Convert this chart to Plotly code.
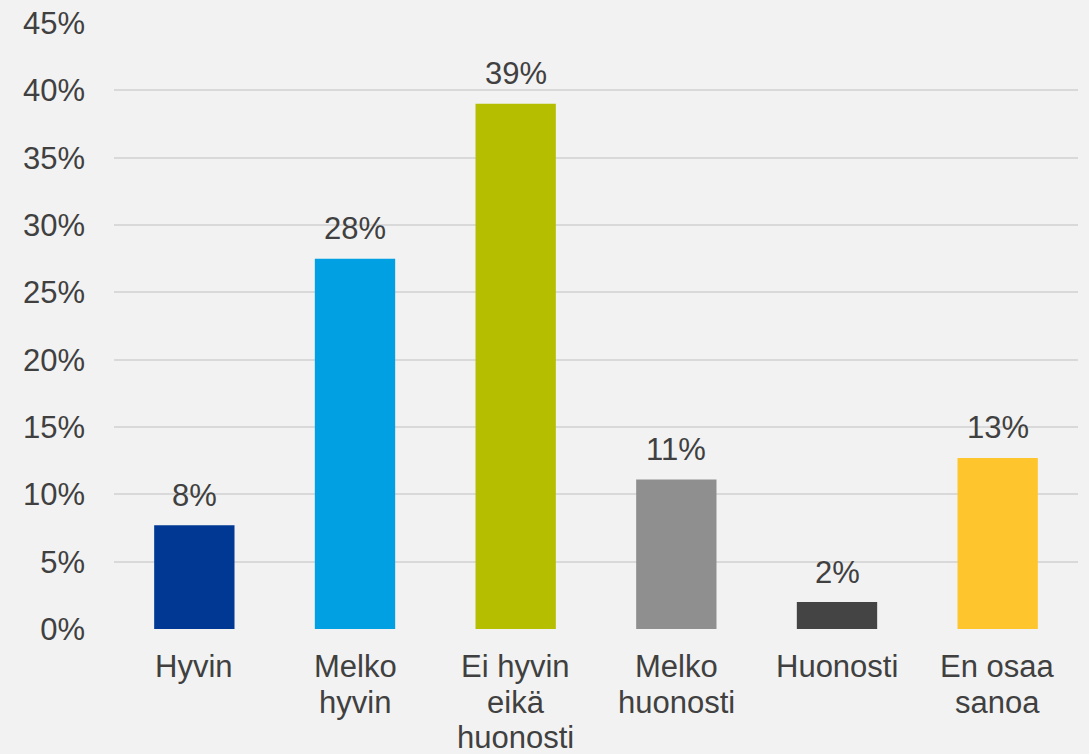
import plotly.graph_objects as go

categories = ["Hyvin", "Melko hyvin", "Ei hyvin eikä huonosti", "Melko huonosti", "Huonosti", "En osaa sanoa"]
category_lines = [["Hyvin"], ["Melko", "hyvin"], ["Ei hyvin", "eikä", "huonosti"],
                  ["Melko", "huonosti"], ["Huonosti"], ["En osaa", "sanoa"]]
values = [7.7, 27.5, 39.0, 11.1, 2.0, 12.7]
labels = ["8%", "28%", "39%", "11%", "2%", "13%"]
colors = ["#003893", "#00A0E2", "#B5BF00", "#8F8F8F", "#444444", "#FFC52C"]
y_ticks = [0, 5, 10, 15, 20, 25, 30, 35, 40, 45]
y_tick_text = ["0%", "5%", "10%", "15%", "20%", "25%", "30%", "35%", "40%", "45%"]

FONT = "Liberation Sans, Arial, sans-serif"
TXT = "#404040"
FS = 31

fig = go.Figure(go.Bar(
    x=categories, y=values, marker=dict(color=colors, line=dict(width=0)),
    hoverinfo="skip",
))

for c, v, t in zip(categories, values, labels):
    fig.add_annotation(x=c, y=v, text=t, showarrow=False, yanchor="bottom",
                       yshift=10.5, font=dict(family=FONT, size=FS, color=TXT))

for c, lines in zip(categories, category_lines):
    for i, ln in enumerate(lines):
        fig.add_annotation(x=c, y=0, text=ln, showarrow=False, yanchor="middle",
                           yshift=-37.6 - 35.6 * i, font=dict(family=FONT, size=FS, color=TXT))

fig.update_layout(
    width=1089, height=754,
    paper_bgcolor="#F2F2F2", plot_bgcolor="#F2F2F2",
    margin=dict(l=114, r=11, t=23, b=125),
    bargap=0.5, showlegend=False,
    font=dict(family=FONT, size=FS, color=TXT),
)
fig.update_yaxes(range=[0, 45], tickvals=y_ticks, ticktext=y_tick_text,
                 showgrid=True, gridcolor="#D9D9D9", gridwidth=2,
                 zeroline=False, showline=False, ticks="", ticklabelstandoff=28,
                 automargin=False, fixedrange=True,
                 tickfont=dict(family=FONT, size=FS, color=TXT))
fig.update_xaxes(showline=False, ticks="", showticklabels=False, automargin=False,
                 fixedrange=True)

fig.write_html("out.html", config={"displayModeBar": False},
               post_script="document.body.style.margin='0';")
